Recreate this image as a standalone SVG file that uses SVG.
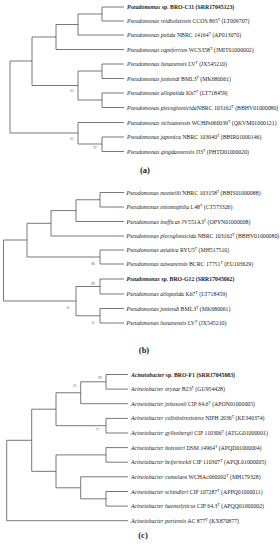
<svg xmlns="http://www.w3.org/2000/svg" width="280" height="550" viewBox="0 0 280 550">
<style>
.t{font-family:"Liberation Serif","Times New Roman",serif;font-size:5.8px;fill:#222}
.i{font-style:italic}
.b{font-weight:bold}
.s{font-size:3.8px}
.bs{font-family:"Liberation Serif",serif;font-size:3.6px;fill:#666;text-anchor:middle}
.pl{font-family:"Liberation Serif",serif;font-size:8.5px;font-weight:bold;fill:#222;text-anchor:middle}
.e{fill:none;stroke:#555;stroke-width:0.8}
</style>
<rect width="280" height="550" fill="#fff"/>
<g id="connectors" class="e">
<!-- panel a -->
<path d="M102,7V21M102,7H124M102,21H124"/>
<path d="M78,14V35M78,14H102M78,35H124"/>
<path d="M56,24.5V49.5M56,24.5H78M56,49.5H124"/>
<path d="M102,64V78.5M102,64H124M102,78.5H124"/>
<path d="M102,93V107.5M102,93H124M102,107.5H124"/>
<path d="M78,71V100M78,71H102M78,100H102"/>
<path d="M32,37V85.5M32,37H56M32,85.5H78"/>
<path d="M102,137V151.5M102,137H124M102,151.5H124"/>
<path d="M78,122.5V144M78,122.5H124M78,144H102"/>
<path d="M10,61V133M10,61H32M10,133H78"/>
<!-- panel b -->
<path d="M100,192.5V207M100,192.5H124M100,207H124"/>
<path d="M76,199.75V221.5M76,199.75H100M76,221.5H124"/>
<path d="M51,210.6V236M51,210.6H76M51,236H124"/>
<path d="M100,250V264M100,250H124M100,264H124"/>
<path d="M27,223.3V257M27,223.3H51M27,257H100"/>
<path d="M100,279V294M100,279H124M100,294H124"/>
<path d="M100,308.5V323M100,308.5H124M100,323H124"/>
<path d="M76,286.5V315.75M76,286.5H100M76,315.75H100"/>
<path d="M3.5,240V301M3.5,240H27M3.5,301H76"/>
<!-- panel c -->
<path d="M106,374.5V389.1M106,374.5H128M106,389.1H128"/>
<path d="M80.7,381.8V403.7M80.7,381.8H106M80.7,403.7H128"/>
<path d="M106,418.4V433M106,418.4H128M106,433H128"/>
<path d="M56,392.75V425.7M56,392.75H80.7M56,425.7H106"/>
<path d="M106,447.6V462.2M106,447.6H128M106,462.2H128"/>
<path d="M106,491.5V506.1M106,491.5H128M106,506.1H128"/>
<path d="M80.7,476.8V498.8M80.7,476.8H128M80.7,498.8H106"/>
<path d="M56,454.9V487.8M56,454.9H106M56,487.8H80.7"/>
<path d="M31.7,409.2V471.35M31.7,409.2H56M31.7,471.35H56"/>
<path d="M6.7,440.3V520.7M6.7,440.3H31.7M6.7,520.7H128"/>
</g>
<g id="bootstrap">
<text class="bs" x="72" y="92">61</text>
<text class="bs" x="72" y="140">61</text>
<text class="bs" x="95" y="149">97</text>
<text class="bs" x="93" y="265">86</text>
<text class="bs" x="93" y="284.5">99</text>
<text class="bs" x="68" y="309">52</text>
<text class="bs" x="93" y="323.5">55</text>
<text class="bs" x="100" y="379">99</text>
<text class="bs" x="75" y="387">61</text>
<text class="bs" x="97.5" y="431">77</text>
</g>
<!-- panel a leaves -->
<g id="a1"><text class="t b i" x="127" y="9">Pseudomonas<tspan font-style="normal"> sp. BRO-C11 (SRR17045123)</tspan></text></g>
<g id="a2"><text class="t" x="127" y="23"><tspan class="i">Pseudomonas reidholzensis</tspan> CCOS 865<tspan class="s" dy="-2">T</tspan><tspan dy="2"> (LT009707)</tspan></text></g>
<g id="a3"><text class="t" x="127" y="37"><tspan class="i">Pseudomonas putida</tspan> NBRC 14164<tspan class="s" dy="-2">T</tspan><tspan dy="2"> (AP013070)</tspan></text></g>
<g id="a4"><text class="t" x="127" y="51.5"><tspan class="i">Pseudomonas capeferrum</tspan> WCS358<tspan class="s" dy="-2">T</tspan><tspan dy="2"> (JMIT01000002)</tspan></text></g>
<g id="a5"><text class="t" x="127" y="66"><tspan class="i">Pseudomonas hunanensis</tspan> LV<tspan class="s" dy="-2">T</tspan><tspan dy="2"> (JX545210)</tspan></text></g>
<g id="a6"><text class="t" x="127" y="80.5"><tspan class="i">Pseudomonas juntendi</tspan> BML3<tspan class="s" dy="-2">T</tspan><tspan dy="2"> (MK680061)</tspan></text></g>
<g id="a7"><text class="t" x="127" y="95"><tspan class="i">Pseudomonas alloputida</tspan> Kh7<tspan class="s" dy="-2">T</tspan><tspan dy="2"> (LT718459)</tspan></text></g>
<g id="a8"><text class="t" x="127" y="109.5"><tspan class="i">Pseudomonas plecoglossicida</tspan>NBRC 103162<tspan class="s" dy="-2">T</tspan><tspan dy="2"> (BBHV01000080)</tspan></text></g>
<g id="a9"><text class="t" x="127" y="124.5"><tspan class="i">Pseudomonas sichuanensis</tspan> WCHPs060039<tspan class="s" dy="-2">T</tspan><tspan dy="2"> (QKVM01000121)</tspan></text></g>
<g id="a10"><text class="t" x="127" y="139"><tspan class="i">Pseudomonas japonica</tspan> NBRC 103040<tspan class="s" dy="-2">T</tspan><tspan dy="2"> (BBIR01000146)</tspan></text></g>
<g id="a11"><text class="t" x="127" y="153.5"><tspan class="i">Pseudomonas qingdaonensis</tspan> JJ3<tspan class="s" dy="-2">T</tspan><tspan dy="2"> (PHTD01000020)</tspan></text></g>
<g id="labelA"><text class="pl" x="145" y="173">(a)</text></g>
<!-- panel b leaves -->
<g id="b1"><text class="t" x="126.5" y="194.5"><tspan class="i">Pseudomonas monteilii</tspan> NBRC 103158<tspan class="s" dy="-2">T</tspan><tspan dy="2"> (BBIS01000088)</tspan></text></g>
<g id="b2"><text class="t" x="126.5" y="209"><tspan class="i">Pseudomonas entomophila</tspan> L48<tspan class="s" dy="-2">T</tspan><tspan dy="2"> (CT573326)</tspan></text></g>
<g id="b3"><text class="t" x="126.5" y="223.5"><tspan class="i">Pseudomonas inefficax</tspan> JV551A3<tspan class="s" dy="-2">T</tspan><tspan dy="2"> (OPYN01000008)</tspan></text></g>
<g id="b4"><text class="t" x="126.5" y="238"><tspan class="i">Pseudomonas plecoglossicida</tspan> NBRC 103162<tspan class="s" dy="-2">T</tspan><tspan dy="2"> (BBHV01000080)</tspan></text></g>
<g id="b5"><text class="t" x="126.5" y="252"><tspan class="i">Pseudomonas asiatica</tspan> RYU5<tspan class="s" dy="-2">T</tspan><tspan dy="2"> (MH517510)</tspan></text></g>
<g id="b6"><text class="t" x="126.5" y="266"><tspan class="i">Pseudomonas taiwanensis</tspan> BCRC 17751<tspan class="s" dy="-2">T</tspan><tspan dy="2"> (EU103629)</tspan></text></g>
<g id="b7"><text class="t b i" x="126.5" y="281">Pseudomonas<tspan font-style="normal"> sp. BRO-G12 (SRR17045062)</tspan></text></g>
<g id="b8"><text class="t" x="126.5" y="296"><tspan class="i">Pseudomonas alloputida</tspan> Kh7<tspan class="s" dy="-2">T</tspan><tspan dy="2"> (LT718459)</tspan></text></g>
<g id="b9"><text class="t" x="126.5" y="310.5"><tspan class="i">Pseudomonas juntendi</tspan> BML3<tspan class="s" dy="-2">T</tspan><tspan dy="2"> (MK680061)</tspan></text></g>
<g id="b10"><text class="t" x="126.5" y="325"><tspan class="i">Pseudomonas hunanensis</tspan> LV<tspan class="s" dy="-2">T</tspan><tspan dy="2"> (JX545210)</tspan></text></g>
<g id="labelB"><text class="pl" x="144" y="353">(b)</text></g>
<!-- panel c leaves -->
<g id="c1"><text class="t b i" x="131" y="376.5">Acinetobacter<tspan font-style="normal"> sp. BRO-F1 (SRR17045083)</tspan></text></g>
<g id="c2"><text class="t" x="131" y="391.1"><tspan class="i">Acinetobacter oryzae</tspan> B23<tspan class="s" dy="-2">T</tspan><tspan dy="2"> (GU954428)</tspan></text></g>
<g id="c3"><text class="t" x="131" y="405.7"><tspan class="i">Acinetobacter johnsonii</tspan> CIP 64.6<tspan class="s" dy="-2">T</tspan><tspan dy="2"> (APON01000005)</tspan></text></g>
<g id="c4"><text class="t" x="131" y="420.4"><tspan class="i">Acinetobacter colistiniresistens</tspan> NIPH 2036<tspan class="s" dy="-2">T</tspan><tspan dy="2"> (KE340374)</tspan></text></g>
<g id="c5"><text class="t" x="131" y="435"><tspan class="i">Acinetobacter gyllenbergii</tspan> CIP 110306<tspan class="s" dy="-2">T</tspan><tspan dy="2"> (ATGG01000001)</tspan></text></g>
<g id="c6"><text class="t" x="131" y="449.6"><tspan class="i">Acinetobacter boissieri</tspan> DSM 14964<tspan class="s" dy="-2">T</tspan><tspan dy="2"> (APQD01000004)</tspan></text></g>
<g id="c7"><text class="t" x="131" y="464.2"><tspan class="i">Acinetobacter beijerinckii</tspan> CIP 110307<tspan class="s" dy="-2">T</tspan><tspan dy="2"> (APQL01000005)</tspan></text></g>
<g id="c8"><text class="t" x="131" y="478.8"><tspan class="i">Acinetobacter cumulans</tspan> WCHAc060092<tspan class="s" dy="-2">T</tspan><tspan dy="2"> (MH179328)</tspan></text></g>
<g id="c9"><text class="t" x="131" y="493.5"><tspan class="i">Acinetobacter schindleri</tspan> CIP 107287<tspan class="s" dy="-2">T</tspan><tspan dy="2"> (APPQ01000011)</tspan></text></g>
<g id="c10"><text class="t" x="131" y="508.1"><tspan class="i">Acinetobacter haemolyticus</tspan> CIP 64.3<tspan class="s" dy="-2">T</tspan><tspan dy="2"> (APQQ01000002)</tspan></text></g>
<g id="c11"><text class="t" x="131" y="522.7"><tspan class="i">Acinetobacter portensis</tspan> AC 877<tspan class="s" dy="-2">T</tspan><tspan dy="2"> (KX870877)</tspan></text></g>
<g id="labelC"><text class="pl" x="143" y="538">(c)</text></g>
</svg>
